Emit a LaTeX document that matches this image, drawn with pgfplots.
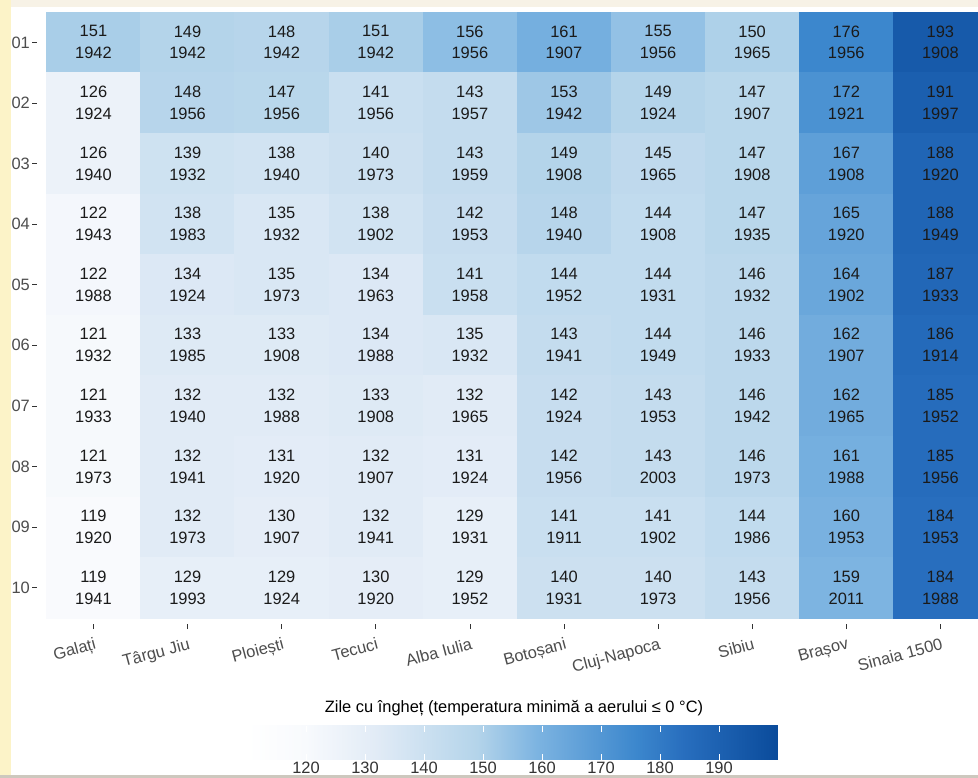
\documentclass[border=0pt]{standalone}
\usepackage{pgfplots}
\pgfplotsset{compat=1.18}
\usepackage{pgfplotstable}
\usepackage{fontspec}
\setmainfont{Liberation Sans}
\pgfkeys{/pgf/number format/assume math mode=true}

\definecolor{axtext}{HTML}{4D4D4D}
\definecolor{axtick}{HTML}{333333}
\definecolor{celltext}{HTML}{1A1A1A}
\definecolor{paperedge}{RGB}{252,243,200}
\definecolor{papertop}{RGB}{247,242,230}
\definecolor{paperbottom}{RGB}{205,200,190}

% Frost days: x = station, y = rank (01..10), v = number of days, yr = year
\pgfplotstableread{
x y v yr
0 1 151 1942
1 1 149 1942
2 1 148 1942
3 1 151 1942
4 1 156 1956
5 1 161 1907
6 1 155 1956
7 1 150 1965
8 1 176 1956
9 1 193 1908
0 2 126 1924
1 2 148 1956
2 2 147 1956
3 2 141 1956
4 2 143 1957
5 2 153 1942
6 2 149 1924
7 2 147 1907
8 2 172 1921
9 2 191 1997
0 3 126 1940
1 3 139 1932
2 3 138 1940
3 3 140 1973
4 3 143 1959
5 3 149 1908
6 3 145 1965
7 3 147 1908
8 3 167 1908
9 3 188 1920
0 4 122 1943
1 4 138 1983
2 4 135 1932
3 4 138 1902
4 4 142 1953
5 4 148 1940
6 4 144 1908
7 4 147 1935
8 4 165 1920
9 4 188 1949
0 5 122 1988
1 5 134 1924
2 5 135 1973
3 5 134 1963
4 5 141 1958
5 5 144 1952
6 5 144 1931
7 5 146 1932
8 5 164 1902
9 5 187 1933
0 6 121 1932
1 6 133 1985
2 6 133 1908
3 6 134 1988
4 6 135 1932
5 6 143 1941
6 6 144 1949
7 6 146 1933
8 6 162 1907
9 6 186 1914
0 7 121 1933
1 7 132 1940
2 7 132 1988
3 7 133 1908
4 7 132 1965
5 7 142 1924
6 7 143 1953
7 7 146 1942
8 7 162 1965
9 7 185 1952
0 8 121 1973
1 8 132 1941
2 8 131 1920
3 8 132 1907
4 8 131 1924
5 8 142 1956
6 8 143 2003
7 8 146 1973
8 8 161 1988
9 8 185 1956
0 9 119 1920
1 9 132 1973
2 9 130 1907
3 9 132 1941
4 9 129 1931
5 9 141 1911
6 9 141 1902
7 9 144 1986
8 9 160 1953
9 9 184 1953
0 10 119 1941
1 10 129 1993
2 10 129 1924
3 10 130 1920
4 10 129 1952
5 10 140 1931
6 10 140 1973
7 10 143 1956
8 10 159 2011
9 10 184 1988
}\frostdata

\begin{document}
\begin{tikzpicture}[x=1bp,y=1bp]
\useasboundingbox (0,0) rectangle (978,778);
\fill[white] (0,0) rectangle (978,778);
\fill[papertop] (0,771) rectangle (978,778);
\fill[paperedge] (0,0) rectangle (11,778);
\fill[paperbottom] (0,0) rectangle (978,3);

\begin{axis}[
  at={(37bp,154bp)}, anchor=south west,
  width=941bp, height=618bp, scale only axis,
  xmin=-0.6, xmax=9.4, ymin=0.4, ymax=10.6,
  y dir=reverse,
  axis x line*=bottom, axis y line*=left,
  axis line style={draw=none},
  tick align=outside,
  major tick length=5bp,
  tick style={axtick, line width=0.6bp},
  xtick={0,...,9},
  xticklabels={Galați, Târgu Jiu, Ploiești, Tecuci, Alba Iulia, Botoșani, Cluj-Napoca, Sibiu, Brașov, Sinaia 1500},
  ytick={1,...,10},
  yticklabels={01,02,03,04,05,06,07,08,09,10},
  xticklabel style={rotate=15, anchor=north east, font=\fontsize{16.5}{19}\selectfont, text=axtext, inner sep=2bp, yshift=-6bp},
  yticklabel style={font=\fontsize{16.5}{19}\selectfont, text=axtext, inner sep=2bp},
  colormap={frost}{
    rgb255(0)=(255,255,255)
    rgb255(10)=(248,250,253)
    rgb255(22)=(225,235,246)
    rgb255(39)=(180,212,234)
    rgb255(49)=(125,180,225)
    rgb255(66)=(60,135,205)
    rgb255(74)=(40,110,190)
    rgb255(90)=(10,75,155)
  },
  point meta min=110, point meta max=200,
  colorbar horizontal,
  colorbar/width=34bp,
  colorbar style={
    at={(0.2232,-0.165)}, anchor=north west,
    width=531bp, height=34bp, scale only axis,
    y dir=normal,
    xtick={120,130,...,190},
    xtick pos=both, xticklabel pos=lower,
    tick align=inside,
    major tick length=6bp,
    xtick style={white, line width=0.8bp},
    axis line style={draw=none},
    xticklabel style={rotate=0, anchor=north, font=\fontsize{16.5}{19}\selectfont, text=axtick, inner sep=2bp, yshift=0bp},
  },
]
\addplot[matrix plot*, mesh/cols=10, point meta=explicit]
  table[x=x, y=y, meta=v] {\frostdata};
\addplot[only marks, mark=none,
  point meta=explicit,
  visualization depends on={\thisrow{yr} \as \yearval},
  nodes near coords={\pgfmathprintnumber[fixed, precision=0]{\pgfplotspointmeta}\\\pgfmathprintnumber[fixed, precision=0, 1000 sep={}]{\yearval}},
  nodes near coords align=center,
  every node near coord/.append style={anchor=center, align=center,
    font=\fontsize{16.5}{22}\selectfont, text=celltext},
] table[x=x, y=y, meta=v] {\frostdata};
\end{axis}

\node[font=\fontsize{16.5}{19}\selectfont, text=black] at (514,70)
  {Zile cu îngheț (temperatura minimă a aerului ≤ 0 °C)};
\end{tikzpicture}
\end{document}
